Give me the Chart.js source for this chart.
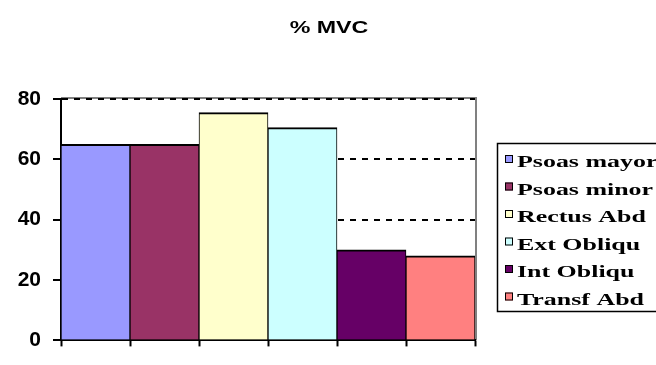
<!DOCTYPE html>
<html>
<head>
<meta charset="utf-8">
<script src="https://cdn.jsdelivr.net/npm/chart.js@4/dist/chart.umd.min.js"></script>
<style>
  html, body { margin: 0; padding: 0; background: #fff; }
  #wrap { width: 656px; height: 365px; }
</style>
</head>
<body>
<div id="wrap"><canvas id="c" width="656" height="365"></canvas></div>
<script>
// Muscle activation, as a percentage of maximum voluntary contraction
const titleText = '% MVC';
const categories = ['Psoas mayor', 'Psoas minor', 'Rectus Abd', 'Ext Obliqu', 'Int Obliqu', 'Transf Abd'];
const mvcValues = [65, 65, 75.5, 70.5, 30, 28];
const barColors = ['#9999FF', '#993366', '#FFFFCC', '#CCFFFF', '#660066', '#FF8080'];
const yTicks = [0, 20, 40, 60, 80];

// Plot frame, title and boxed legend drawn around the chart area
const framePlugin = {
  id: 'frameAndLegend',
  beforeDraw(chart) {
    const { ctx, chartArea: a } = chart;
    ctx.save();
    ctx.fillStyle = '#fff';
    ctx.fillRect(0, 0, chart.width, chart.height);
    ctx.strokeStyle = '#808080';
    ctx.lineWidth = 2;
    ctx.beginPath();
    ctx.moveTo(a.left, a.top - 1);
    ctx.lineTo(a.right + 1, a.top - 1);
    ctx.lineTo(a.right + 1, a.bottom);
    ctx.stroke();
    ctx.restore();
  },
  afterDraw(chart) {
    const ctx = chart.ctx;
    ctx.save();
    // title
    ctx.fillStyle = '#000';
    ctx.font = 'bold 16px "Liberation Sans", Arial, sans-serif';
    ctx.textAlign = 'center';
    ctx.textBaseline = 'alphabetic';
    ctx.save();
    ctx.translate(329, 33);
    ctx.scale(1.45, 1);
    ctx.fillText(titleText, 0, 0);
    ctx.restore();

    // legend box
    ctx.strokeStyle = '#000';
    ctx.lineWidth = 1.5;
    ctx.strokeRect(497.5, 143.5, 200, 168);
    ctx.textAlign = 'left';
    categories.forEach((name, i) => {
      const cy = 159 + i * 27.5;
      ctx.fillStyle = barColors[i];
      ctx.fillRect(505, cy - 4, 8, 8);
      ctx.lineWidth = 1;
      ctx.strokeStyle = '#000';
      ctx.strokeRect(505.5, cy - 3.5, 7, 7);
      ctx.save();
      ctx.translate(517, cy + 8);
      ctx.scale(1.62, 1);
      ctx.fillStyle = '#000';
      ctx.font = 'bold 16px "Liberation Serif", "Times New Roman", serif';
      ctx.fillText(name, 0, 0);
      ctx.restore();
    });
    ctx.restore();
  }
};

new Chart(document.getElementById('c'), {
  type: 'bar',
  data: {
    labels: categories,
    datasets: [{
      label: titleText,
      data: mvcValues,
      backgroundColor: barColors,
      borderColor: '#000',
      borderWidth: { top: 2, left: 1, right: 1, bottom: 0 },
      barPercentage: 1,
      categoryPercentage: 1
    }]
  },
  options: {
    responsive: false,
    animation: false,
    devicePixelRatio: 1,
    layout: { padding: { left: 0, right: 181, top: 99, bottom: 0 } },
    plugins: {
      legend: { display: false },
      title: { display: false },
      tooltip: { enabled: false }
    },
    scales: {
      x: {
        offset: true,
        grid: {
          offset: true,
          drawOnChartArea: false,
          drawTicks: true,
          tickLength: 6,
          tickWidth: 2,
          tickColor: '#000',
          color: '#000'
        },
        border: { display: true, color: '#000', width: 2 },
        ticks: { display: false },
        afterFit(scale) { scale.height = 6; }
      },
      y: {
        min: 0,
        max: 80,
        afterBuildTicks(scale) { scale.ticks = yTicks.map(v => ({ value: v })); },
        grid: {
          color: '#000',
          lineWidth: 2,
          drawTicks: true,
          tickLength: 8,
          tickWidth: 2,
          tickColor: '#000',
          tickBorderDash: []
        },
        border: { display: true, color: '#000', width: 2, dash: [6, 6] },
        ticks: {
          color: '#000',
          padding: 12,
          font: { family: '"Liberation Sans", Arial, sans-serif', size: 21, weight: 'bold' }
        },
        afterFit(scale) { scale.width = 61; }
      }
    }
  },
  plugins: [framePlugin]
});
</script>
</body>
</html>
